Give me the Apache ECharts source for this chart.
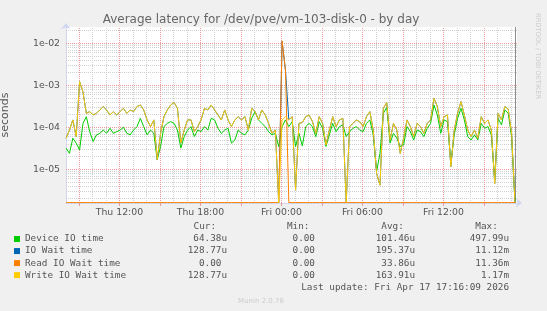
<!DOCTYPE html>
<html><head><meta charset="utf-8">
<script src="https://cdn.jsdelivr.net/npm/echarts@6/dist/echarts.min.js"></script>
<style>html,body{margin:0;padding:0;background:#f0f0f0;}#c{width:547px;height:311px;}</style>
</head><body><div id="c"></div>
<script>
// time of first sample and sample spacing, in hours since Thu 00:00
const T0 = 8.05, STEP = 0.25;
// values in microseconds (0 = no latency)
const device = [32,24,55,42,29,124,179,79,46,66,72,86,72,95,72,79,86,100,72,66,86,104,164,104,66,86,72,17,35,104,124,136,124,86,32,60,86,104,60,86,79,104,86,164,150,95,72,86,95,42,50,86,72,66,86,164,236,150,124,104,79,66,72,35,104,150,104,136,35,72,36,104,124,104,60,136,95,35,66,124,79,104,114,60,79,95,104,86,79,124,150,66,8.8,24,215,300,42,72,55,35,38,104,79,50,86,79,60,95,124,340,197,72,150,136,14,66,164,283,150,60,50,66,50,124,95,104,66,5.6,164,114,259,215,60,0];
const ioWait = [55,86,150,60,1220,700,215,236,197,215,259,311,259,197,236,197,236,283,215,259,236,311,340,259,150,104,150,17,72,179,259,340,390,283,42,86,150,150,79,104,150,283,259,340,259,197,150,259,150,104,150,179,150,179,86,283,236,150,259,197,124,72,86,0,11120,2300,150,179,3.2,124,130,179,197,136,72,179,124,38,86,179,104,150,164,0,104,124,150,136,104,179,236,86,8,4.2,283,390,50,124,86,24,55,150,104,60,124,104,72,124,150,490,311,104,179,197,11.5,86,215,408,197,86,60,86,55,179,124,150,86,4.6,215,150,311,270,72,0];
const readWait = [0,0,0,0,0,0,0,0,0,0,0,0,0,0,0,0,0,0,0,0,0,0,0,0,0,0,0,0,0,0,0,0,0,0,0,0,0,0,0,0,0,0,0,0,0,0,0,0,0,0,0,0,0,0,0,0,0,0,0,0,0,0,0,0,11360,2300,0,0,0,0,0,0,0,0,0,0,0,0,0,0,0,0,0,0,0,0,0,0,0,0,0,0,0,0,0,0,0,0,0,0,0,0,0,0,0,0,0,0,0,0,0,0,0,0,0,0,0,0,0,0,0,0,0,0,0,0,0,0,0,0,0,0,0,0];
const writeWait = [55,86,150,60,1220,700,215,236,197,215,259,311,259,197,236,197,236,283,215,259,236,311,340,259,150,104,150,17,72,179,259,340,390,283,42,86,150,150,79,104,150,283,259,340,259,197,150,259,150,104,150,179,150,179,86,283,236,150,259,197,124,72,86,0,150,179,150,179,3.2,124,130,179,197,136,72,179,124,38,86,179,104,150,164,0,104,124,150,136,104,179,236,86,8,4.2,283,390,50,124,86,24,55,150,104,60,124,104,72,124,150,490,311,104,179,197,11.5,86,215,408,197,86,60,86,55,179,124,150,86,4.6,215,150,311,270,72,0];

const xLabelHours = [12, 18, 24, 30, 36];
const yLabelValues = [1e-5, 1e-4, 1e-3, 1e-2];
const legendNames = ['Device IO time', 'IO Wait time', 'Read IO Wait time', 'Write IO Wait time'];
const legendColors = ['#00cc00', '#0066b3', '#ff8000', '#ffcc00'];
const statCur = ['64.38u', '128.77u', '0.00 ', '128.77u'];
const statMin = ['0.00 ', '0.00 ', '0.00 ', '0.00 '];
const statAvg = ['101.46u', '195.37u', '33.86u', '163.91u'];
const statMax = ['497.99u', '11.12m', '11.36m', '1.17m'];
const lastUpdate = 'Last update: Fri Apr 17 17:16:09 2026';

const X_MIN = 8.044, X_MAX = 41.45, NOW_H = 41.3;
const Y_MIN = 1.58e-6, Y_MAX = 2.44e-2, ZERO_FLOOR = 1.62e-6;

function pairs(arr) {
  return arr.map((v, i) => [T0 + STEP * i, v > 0 ? v * 1e-6 : ZERO_FLOOR]);
}

// grid line positions
const minorHours = [], majorHours = [];
for (let h = 9; h <= 41; h++) { if (h % 3 === 0) majorHours.push(h); else minorHours.push(h); }
const minorY = [], majorY = [];
for (let e = -6; e <= -2; e++) {
  const d = Math.pow(10, e);
  if (d >= Y_MIN && d <= Y_MAX) majorY.push(d);
  for (let k = 2; k <= 9; k++) { const v = k * d; if (v >= Y_MIN && v <= Y_MAX) minorY.push(v); }
}
const GRAY = '#d0d0d0', RED = '#ee9a9a';

function gridSeries(name, items, color, type, z) {
  return {
    name: name, type: 'line', data: [], silent: true, animation: false, z: z,
    markLine: {
      silent: true, symbol: ['none', 'none'], animation: false, z: z, precision: 10,
      label: { show: false }, emphasis: { disabled: true },
      lineStyle: { color: color, type: type, width: 1, opacity: 1 },
      data: items
    }
  };
}

const FONT = 'DejaVu Sans', MONO = 'DejaVu Sans Mono', TXT = '#555';
const graphics = [];
const monoText = (text, x, y, align) => ({
  type: 'text', x: x, y: y, silent: true,
  style: { text: text, font: '9.33px "' + MONO + '"', fill: TXT, align: align, verticalAlign: 'middle' }
});
graphics.push(monoText('Cur:', 216, 227, 'right'));
graphics.push(monoText('Min:', 309.4, 227, 'right'));
graphics.push(monoText('Avg:', 403.8, 227, 'right'));
graphics.push(monoText('Max:', 497.8, 227, 'right'));
for (let i = 0; i < 4; i++) {
  const y = 239 + 12.05 * i;
  graphics.push({ type: 'rect', silent: true, shape: { x: 14, y: y - 3, width: 6, height: 6 }, style: { fill: legendColors[i] } });
  graphics.push(monoText(legendNames[i], 25, y, 'left'));
  graphics.push(monoText(statCur[i], 227, y, 'right'));
  graphics.push(monoText(statMin[i], 320.6, y, 'right'));
  graphics.push(monoText(statAvg[i], 415, y, 'right'));
  graphics.push(monoText(statMax[i], 509, y, 'right'));
}
graphics.push(monoText(lastUpdate, 509, 287.3, 'right'));
graphics.push({ type: 'text', x: 261, y: 301, silent: true,
  style: { text: 'Munin 2.0.76', font: '7px "' + FONT + '"', fill: '#cccccc', align: 'center', verticalAlign: 'middle' } });
graphics.push({ type: 'text', x: 537.5, y: 13, rotation: -Math.PI / 2, silent: true,
  style: { text: 'RRDTOOL / TOBI OETIKER', font: '6.7px "' + FONT + '"', fill: '#cccccc', align: 'left', verticalAlign: 'middle' } });

function lineSeries(name, arr, color) {
  return {
    name: name, type: 'line', data: pairs(arr), showSymbol: false, symbol: 'none',
    lineStyle: { color: color, width: 1 }, itemStyle: { color: color },
    clip: true, animation: false, silent: true, z: 3
  };
}

const chart = echarts.init(document.getElementById('c'), null, { renderer: 'canvas' });
chart.setOption({
  animation: false,
  backgroundColor: '#f0f0f0',
  title: {
    text: 'Average latency for /dev/pve/vm-103-disk-0 - by day',
    left: 261, top: 13.5, textAlign: 'center', padding: 0,
    textStyle: { fontFamily: FONT, fontSize: 12, fontWeight: 'normal', color: '#666' }
  },
  grid: { left: 66, top: 27, right: 30, bottom: 108, show: true, backgroundColor: '#ffffff', borderWidth: 0,
          containLabel: false, outerBoundsMode: 'none' },
  xAxis: {
    type: 'value', min: X_MIN, max: X_MAX,
    splitLine: { show: false },
    axisLine: { show: true, lineStyle: { color: '#d2d6ee', width: 1 }, symbol: ['none', 'arrow'], symbolSize: [7, 6], symbolOffset: [0, 5] },
    axisTick: { show: true, customValues: majorHours, length: 3, lineStyle: { color: RED } },
    axisLabel: {
      customValues: xLabelHours, margin: 5, color: TXT, fontFamily: FONT, fontSize: 9.33,
      formatter: h => (h < 24 ? 'Thu ' : 'Fri ') + String(h % 24).padStart(2, '0') + ':00'
    }
  },
  yAxis: {
    type: 'log', logBase: 10, min: Y_MIN, max: Y_MAX,
    name: 'seconds', nameLocation: 'middle', nameGap: 55,
    nameTextStyle: { color: TXT, fontFamily: FONT, fontSize: 11 },
    splitLine: { show: false }, minorSplitLine: { show: false },
    axisLine: { show: true, lineStyle: { color: '#d2d6ee', width: 1 }, symbol: ['none', 'arrow'], symbolSize: [7, 6], symbolOffset: [0, 4] },
    axisTick: { show: false },
    axisLabel: {
      customValues: yLabelValues, margin: 6, color: TXT, fontFamily: FONT, fontSize: 9.33,
      formatter: v => { const e = Math.round(Math.log10(v)); return '1e' + (e < 0 ? '-' : '+') + String(Math.abs(e)).padStart(2, '0'); }
    }
  },
  graphic: graphics,
  series: [
    gridSeries('minorGridX', minorHours.map(h => ({ xAxis: h })), GRAY, 'dotted', 1),
    gridSeries('minorGridY', minorY.map(v => ({ yAxis: v })), GRAY, 'dotted', 1),
    gridSeries('majorGridX', majorHours.map(h => ({ xAxis: h })), RED, 'dotted', 1),
    gridSeries('majorGridY', majorY.map(v => ({ yAxis: v })), RED, 'dotted', 1),
    gridSeries('now', [{ xAxis: NOW_H }], '#8c8c8c', 'solid', 1),
    lineSeries('Device IO time', device, legendColors[0]),
    lineSeries('IO Wait time', ioWait, legendColors[1]),
    lineSeries('Read IO Wait time', readWait, legendColors[2]),
    lineSeries('Write IO Wait time', writeWait, legendColors[3])
  ]
});
</script></body></html>
